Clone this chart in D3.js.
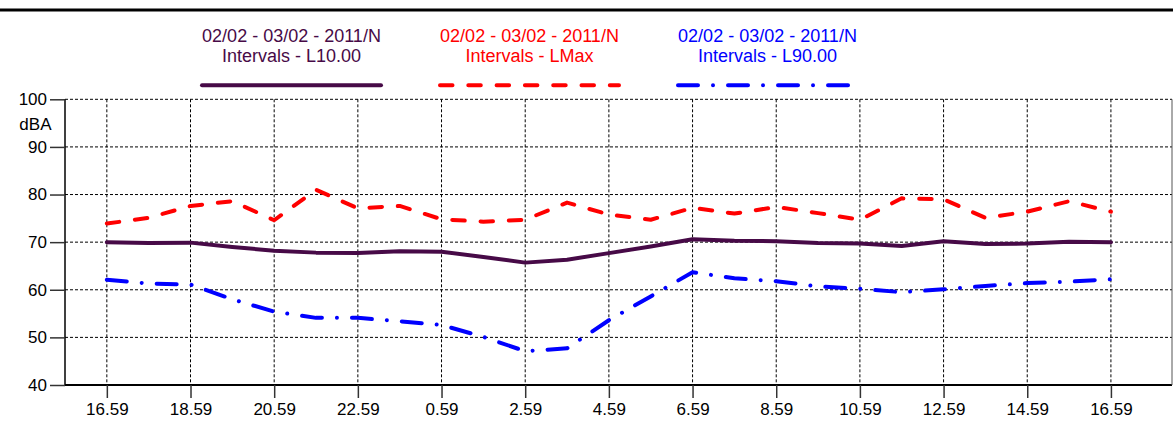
<!DOCTYPE html>
<html>
<head>
<meta charset="utf-8">
<script src="https://cdn.jsdelivr.net/npm/d3@7/dist/d3.min.js"></script>
<style>
  html, body { margin: 0; padding: 0; background: #fff; }
  svg { display: block; font-family: "Liberation Sans", Arial, sans-serif; }
</style>
</head>
<body>
<svg id="chart" width="1173" height="435"></svg>
<script>
// ---- data ----
const tickLabels = ["16.59","18.59","20.59","22.59","0.59","2.59","4.59","6.59","8.59","10.59","12.59","14.59","16.59"];
const yTicks = [40, 50, 60, 70, 80, 90, 100];
const legendLine1 = "02/02 - 03/02 - 2011/N";
const lMax = [73.9, 75.1, 77.6, 78.6, 74.6, 81.0, 77.1, 77.6, 74.8, 74.3, 74.7, 78.3, 75.8, 74.7, 77.2, 76.0, 77.4, 76.1, 74.7, 79.2, 79.0, 75.1, 76.4, 78.6, 76.4];
const l10 = [70.0, 69.8, 69.9, 69.0, 68.2, 67.8, 67.7, 68.1, 68.0, 66.9, 65.7, 66.3, 67.7, 69.1, 70.6, 70.3, 70.2, 69.8, 69.7, 69.2, 70.2, 69.6, 69.7, 70.1, 70.0];
const l90 = [62.1, 61.3, 61.1, 58.0, 55.4, 54.1, 54.1, 53.4, 52.6, 50.1, 47.1, 47.7, 53.6, 58.6, 63.7, 62.4, 61.8, 60.7, 60.2, 59.5, 60.1, 60.8, 61.4, 61.7, 62.2];

(function () {
// ---- layout ----
const pL = 65, pR = 1172, pT = 99.3, pB = 385;
const svg = d3.select("#chart");

const x = d3.scaleLinear().domain([-1, 25.46]).range([pL, pR]);
const y = d3.scaleLinear().domain([40, 100]).range([pB, pT]);

const series = [
  { label: "L10.00", values: l10, color: "#470a47", dash: null, legendX: 200 },
  { label: "LMax", values: lMax, color: "#ff0000", dash: "12.5,15.8", legendX: 438 },
  { label: "L90.00", values: l90, color: "#0000ff", dash: "20,15,0.01,15", legendX: 676 }
];

// top rule
svg.append("line").attr("x1", 0).attr("x2", 1173).attr("y1", 10).attr("y2", 10)
  .attr("stroke", "#000").attr("stroke-width", 3);

// grid
const tickIdx = tickLabels.map((d, i) => i * 2);
const grid = svg.append("g");
grid.selectAll("line.h").data(yTicks).join("line").attr("class", "h")
  .attr("x1", pL).attr("x2", pR)
  .attr("y1", d => y(d)).attr("y2", d => y(d))
  .attr("stroke", "#000").attr("stroke-width", 1).attr("stroke-dasharray", "3,2");
grid.selectAll("line.v").data(tickIdx).join("line").attr("class", "v")
  .attr("x1", d => x(d)).attr("x2", d => x(d))
  .attr("y1", pT).attr("y2", pB)
  .attr("stroke", "#000").attr("stroke-width", 1).attr("stroke-dasharray", "3,2");

// frame
svg.append("line").attr("x1", pL).attr("x2", pL).attr("y1", pT).attr("y2", pB)
  .attr("stroke", "#000").attr("stroke-width", 1.5);
svg.append("line").attr("x1", pL).attr("x2", pR).attr("y1", pB).attr("y2", pB)
  .attr("stroke", "#000").attr("stroke-width", 2);
svg.append("line").attr("x1", pR).attr("x2", pR).attr("y1", pT).attr("y2", pB)
  .attr("stroke", "#555").attr("stroke-width", 1);

// series lines
const line = d3.line().x((d, i) => x(i)).y(d => y(d));
series.forEach(s => {
  svg.append("path").datum(s.values)
    .attr("d", line)
    .attr("fill", "none")
    .attr("stroke", s.color)
    .attr("stroke-width", 4)
    .attr("stroke-linecap", "round")
    .attr("stroke-linejoin", "round")
    .attr("stroke-dasharray", s.dash);
});

// y axis
const yAxis = d3.axisLeft(y).tickValues(yTicks).tickSize(15).tickPadding(3).tickFormat(d3.format("d"));
const gy = svg.append("g").attr("transform", `translate(${pL},0)`).call(yAxis);
gy.select(".domain").remove();
gy.selectAll(".tick line").attr("stroke", "#333").attr("stroke-width", 1.5);
gy.selectAll(".tick text").attr("font-size", 17).attr("fill", "#000")
  .attr("font-family", "Liberation Sans, Arial, sans-serif");
svg.append("text").attr("x", 51.5).attr("y", 130).attr("text-anchor", "end")
  .attr("font-size", 17).text("dBA");

// x axis
const xAxis = d3.axisBottom(x).tickValues(tickIdx).tickSize(13).tickPadding(5)
  .tickFormat((d, i) => tickLabels[i]);
const gx = svg.append("g").attr("transform", `translate(0,${pB})`).call(xAxis);
gx.select(".domain").remove();
gx.selectAll(".tick line").attr("stroke", "#333").attr("stroke-width", 1.5);
gx.selectAll(".tick text").attr("font-size", 17).attr("fill", "#000")
  .attr("font-family", "Liberation Sans, Arial, sans-serif");

// legend
const legW = 183;
series.forEach(s => {
  const cx = s.legendX + legW / 2;
  svg.append("text").attr("x", cx).attr("y", 41.5).attr("text-anchor", "middle")
    .attr("font-size", 18).attr("fill", s.color).text(legendLine1);
  svg.append("text").attr("x", cx).attr("y", 61.5).attr("text-anchor", "middle")
    .attr("font-size", 18).attr("fill", s.color).text("Intervals - " + s.label);
  svg.append("line").attr("x1", s.legendX + 2).attr("x2", s.legendX + legW - 2)
    .attr("y1", 85.3).attr("y2", 85.3)
    .attr("stroke", s.color).attr("stroke-width", 4)
    .attr("stroke-linecap", "round")
    .attr("stroke-dasharray", s.dash);
});
})();
</script>
</body>
</html>
